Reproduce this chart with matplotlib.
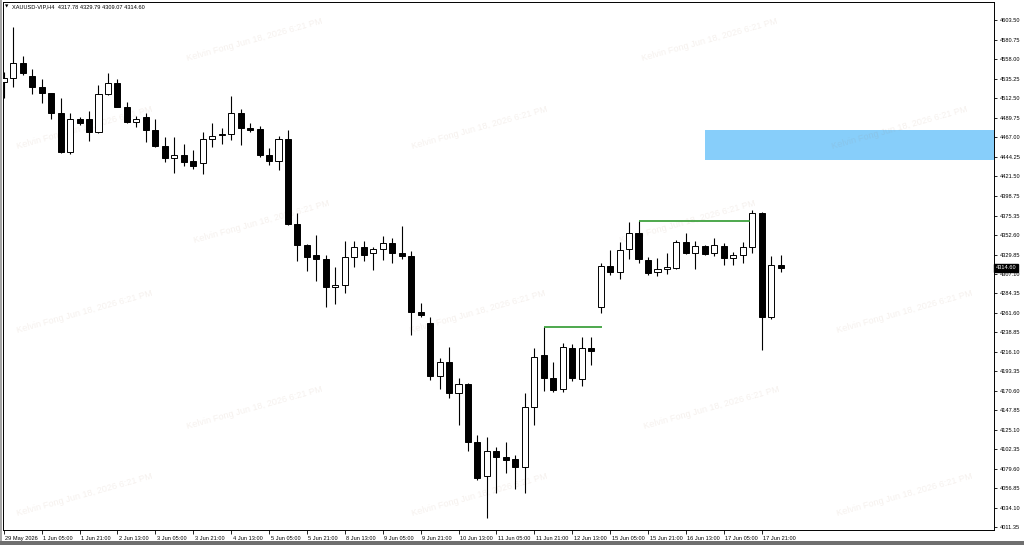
import matplotlib
matplotlib.use("Agg")
import matplotlib.pyplot as plt
import matplotlib.transforms as mtransforms
from matplotlib.patches import Rectangle
from matplotlib.ticker import FixedLocator, FixedFormatter

# ── Data (XAUUSD H4) ──────────────────────────────────────────────────────────
TITLE = "XAUUSD-VIP,H4  4317.78 4329.79 4309.07 4314.60"
WATERMARK = "Kelvin Fong Jun 18, 2026 6:21 PM"
LAST_PRICE = 4314.60

opens = [4531.6, 4535.9, 4553.5, 4539.0, 4525.4, 4518.4, 4495.7, 4449.8, 4488.0, 4488.0,
         4473.5, 4517.2, 4530.1, 4502.7, 4484.5, 4491.0, 4475.5, 4456.8, 4442.8, 4446.3,
         4439.2, 4436.6, 4465.3, 4469.3, 4470.5, 4495.7, 4477.5, 4476.3, 4446.3, 4439.6,
         4464.6, 4365.2, 4341.0, 4329.7, 4324.7, 4291.6, 4293.9, 4326.7, 4338.4, 4331.3,
         4336.0, 4343.0, 4332.0, 4328.2, 4262.4, 4250.2, 4187.9, 4204.3, 4167.7, 4178.5,
         4111.1, 4071.0, 4100.6, 4093.2, 4090.5, 4081.9, 4151.3, 4212.4, 4185.6, 4172.3,
         4221.0, 4184.7, 4220.3, 4268.2, 4316.1, 4309.8, 4336.0, 4354.7, 4323.5, 4309.8,
         4312.6, 4314.5, 4344.2, 4331.3, 4339.9, 4332.0, 4340.2, 4326.2, 4329.4, 4339.1,
         4378.8, 4256.5, 4317.78]
highs = [4543.3, 4595.9, 4562.0, 4546.5, 4534.8, 4518.8, 4512.6, 4495.0, 4490.3, 4498.1,
         4528.1, 4541.8, 4534.8, 4508.6, 4491.9, 4495.7, 4488.0, 4467.7, 4467.7, 4459.1,
         4452.1, 4473.5, 4484.0, 4477.5, 4515.2, 4499.7, 4483.3, 4480.5, 4454.1, 4468.8,
         4475.5, 4378.8, 4342.2, 4352.7, 4329.4, 4315.7, 4346.1, 4346.1, 4345.7, 4339.1,
         4351.6, 4348.9, 4363.3, 4334.4, 4273.6, 4256.5, 4208.6, 4221.4, 4185.2, 4180.1,
         4118.9, 4116.9, 4105.2, 4111.1, 4095.5, 4168.4, 4220.3, 4245.5, 4204.6, 4226.8,
         4225.3, 4233.8, 4233.8, 4320.0, 4335.2, 4344.2, 4368.3, 4369.1, 4327.4, 4325.5,
         4332.0, 4346.9, 4354.7, 4346.1, 4341.0, 4348.9, 4343.7, 4333.2, 4344.9, 4382.0,
         4380.0, 4328.2, 4329.79]
lows = [4512.9, 4525.8, 4539.8, 4517.6, 4507.4, 4488.7, 4449.0, 4447.4, 4481.3, 4463.0,
        4472.3, 4516.8, 4502.0, 4483.3, 4478.6, 4461.8, 4456.0, 4438.4, 4425.6, 4433.4,
        4429.5, 4423.7, 4455.3, 4458.8, 4463.8, 4457.6, 4472.8, 4444.3, 4434.6, 4428.7,
        4364.4, 4322.7, 4311.0, 4299.3, 4268.2, 4272.1, 4285.3, 4315.0, 4322.7, 4311.8,
        4323.5, 4320.4, 4325.0, 4235.8, 4257.2, 4183.2, 4172.3, 4161.8, 4130.6, 4100.6,
        4066.3, 4022.2, 4050.8, 4074.8, 4055.4, 4050.8, 4130.6, 4170.7, 4169.5, 4169.5,
        4182.0, 4176.2, 4200.8, 4261.9, 4306.0, 4300.9, 4324.3, 4320.4, 4306.0, 4304.8,
        4307.1, 4312.6, 4330.8, 4312.6, 4329.4, 4328.2, 4317.7, 4317.7, 4319.7, 4331.3,
        4218.3, 4254.2, 4309.07]
closes = [4536.3, 4553.5, 4541.8, 4525.4, 4518.4, 4495.7, 4449.8, 4488.0, 4484.0, 4473.5,
          4517.6, 4530.1, 4502.7, 4484.5, 4488.4, 4475.5, 4456.8, 4443.1, 4446.3, 4438.4,
          4433.4, 4465.3, 4468.5, 4470.8, 4495.7, 4478.2, 4475.5, 4446.3, 4439.6, 4464.6,
          4365.2, 4341.0, 4327.4, 4324.7, 4291.6, 4294.3, 4326.7, 4338.4, 4329.4, 4336.0,
          4343.0, 4332.0, 4328.2, 4263.1, 4259.6, 4187.9, 4204.3, 4167.7, 4178.5, 4111.1,
          4069.0, 4100.6, 4092.8, 4089.7, 4081.9, 4151.3, 4210.5, 4185.6, 4171.5, 4221.4,
          4185.2, 4220.3, 4217.5, 4316.5, 4309.8, 4335.2, 4354.7, 4324.3, 4308.7, 4312.6,
          4315.0, 4344.9, 4331.3, 4339.9, 4330.2, 4341.0, 4326.2, 4329.0, 4339.1, 4378.8,
          4256.5, 4317.3, 4314.60]

# time axis labels (every 4th bar)
x_label_bars = [0, 4, 8, 12, 16, 20, 24, 28, 32, 36, 40, 44, 48, 52, 56, 60, 64, 68, 72, 76, 80]
x_labels = ["29 May 2026", "1 Jun 05:00", "1 Jun 21:00", "2 Jun 13:00", "3 Jun 05:00",
            "3 Jun 21:00", "4 Jun 13:00", "5 Jun 05:00", "5 Jun 21:00", "8 Jun 13:00",
            "9 Jun 05:00", "9 Jun 21:00", "10 Jun 13:00", "11 Jun 05:00", "11 Jun 21:00",
            "12 Jun 13:00", "15 Jun 05:00", "15 Jun 21:00", "16 Jun 13:00", "17 Jun 05:00",
            "17 Jun 21:00"]

y_ticks = [4603.50, 4580.75, 4558.00, 4535.25, 4512.50, 4489.75, 4467.00, 4444.25,
           4421.50, 4398.75, 4375.35, 4352.60, 4329.85, 4307.10, 4284.35, 4261.60,
           4238.85, 4216.10, 4193.35, 4170.60, 4147.85, 4125.10, 4102.35, 4079.60,
           4056.85, 4034.10, 4011.35]

# drawn objects: two horizontal levels and a supply zone
level_prices = [4245.5, 4369.1]
level_start = [57, 67]
level_end = [63.1, 78.8]
zone_low, zone_high, zone_start = 4440.4, 4475.5, 74.0

# ── Styling ───────────────────────────────────────────────────────────────────
FONT = "Liberation Sans"
BULL_FC = "white"
BEAR_FC = "black"
LEVEL_COLOR = "#2f9a2f"
ZONE_COLOR = "#87cefa"
WM_COLOR = "#a07050"

W, H = 1024, 545
fig = plt.figure(figsize=(W / 100, H / 100), dpi=100)
fig.patch.set_facecolor("white")

ax_l, ax_r, ax_t, ax_b = 3, 994, 2, 530
ax = fig.add_axes([ax_l / W, (H - ax_b) / H, (ax_r - ax_l) / W, (ax_b - ax_t) / H])
ax.set_facecolor("white")

# watermarks (staggered grid of faint rotated text, behind the candles)
wm_rows = [(40, [255, 710]), (128, [85, 480, 900]), (222, [262, 688]),
           (312, [85, 478, 905]), (408, [255, 712]), (495, [85, 480, 905])]
for yy, xs in wm_rows:
    for xx in xs:
        ax.text(xx / W, 1 - yy / H, WATERMARK, transform=fig.transFigure,
                fontsize=6.6, color=WM_COLOR, alpha=0.1, rotation=15.5,
                ha="center", va="center", family=FONT, zorder=1.5, clip_on=False)

# supply zone
ax.add_patch(Rectangle((zone_start, zone_low), 200, zone_high - zone_low,
                       facecolor=ZONE_COLOR, edgecolor="none", zorder=1))

# candles
body_w = 0.64
for i in range(len(opens)):
    o, h, l, c = opens[i], highs[i], lows[i], closes[i]
    ax.vlines(i, l, h, color="black", linewidth=0.8, zorder=2)
    lo, hi = min(o, c), max(o, c)
    height = max(hi - lo, 0.8)
    fc = BULL_FC if c >= o else BEAR_FC
    ax.bar(i, height, width=body_w, bottom=lo, color=fc, edgecolor="black",
           linewidth=0.7, zorder=3)

# horizontal levels
for p, s, e in zip(level_prices, level_start, level_end):
    ax.hlines(p, s, e, color=LEVEL_COLOR, linewidth=1.2, zorder=4)

ax.set_xlim(-0.08, 104.52)
ax.set_ylim(4007.85, 4625.1)

# y axis on the right
ax.yaxis.tick_right()
ax.yaxis.set_major_locator(FixedLocator(y_ticks))
ax.yaxis.set_major_formatter(FixedFormatter([f"{v:.2f}" for v in y_ticks]))
ax.tick_params(axis="y", direction="out", length=2.5, width=0.6, pad=1.5,
               labelsize=4.1, colors="black")
for lab in ax.get_yticklabels():
    lab.set_family(FONT)

# x axis
ax.set_xticks(x_label_bars)
ax.set_xticklabels(x_labels)
ax.tick_params(axis="x", direction="out", length=3, width=0.6, pad=1,
               labelsize=4.1, colors="black")
offset = mtransforms.ScaledTranslation(1.5 / 100, 0, fig.dpi_scale_trans)
for lab in ax.get_xticklabels():
    lab.set_family(FONT)
    lab.set_ha("left")
    lab.set_transform(lab.get_transform() + offset)

for sp in ax.spines.values():
    sp.set_linewidth(0.7)
    sp.set_color("black")

# title line
fig.text(5 / W, 1 - 7 / H, "\u25BC", fontsize=3.2, family="DejaVu Sans",
         ha="left", va="center", color="black")
fig.text(12 / W, 1 - 7 / H, TITLE, fontsize=4.1, family=FONT,
         ha="left", va="center", color="black")

# current price tag
trans = mtransforms.blended_transform_factory(ax.transAxes, ax.transData)
ax.text(1.0015, LAST_PRICE, f"{LAST_PRICE:.2f}", transform=trans, fontsize=4.1,
        family=FONT, color="white", ha="left", va="center", zorder=6, clip_on=False,
        bbox=dict(boxstyle="square,pad=0.25", facecolor="black", edgecolor="black"))

# window chrome: gray left edge and bottom strip
fig.patches.append(Rectangle((0, 0), 2 / W, 1, transform=fig.transFigure,
                             facecolor="#a6a6a6", edgecolor="none", zorder=0))
fig.patches.append(Rectangle((0, 0), 1, 4 / H, transform=fig.transFigure,
                             facecolor="#6f6f6f", edgecolor="none", zorder=0))

fig.savefig("out.png", dpi=100)
